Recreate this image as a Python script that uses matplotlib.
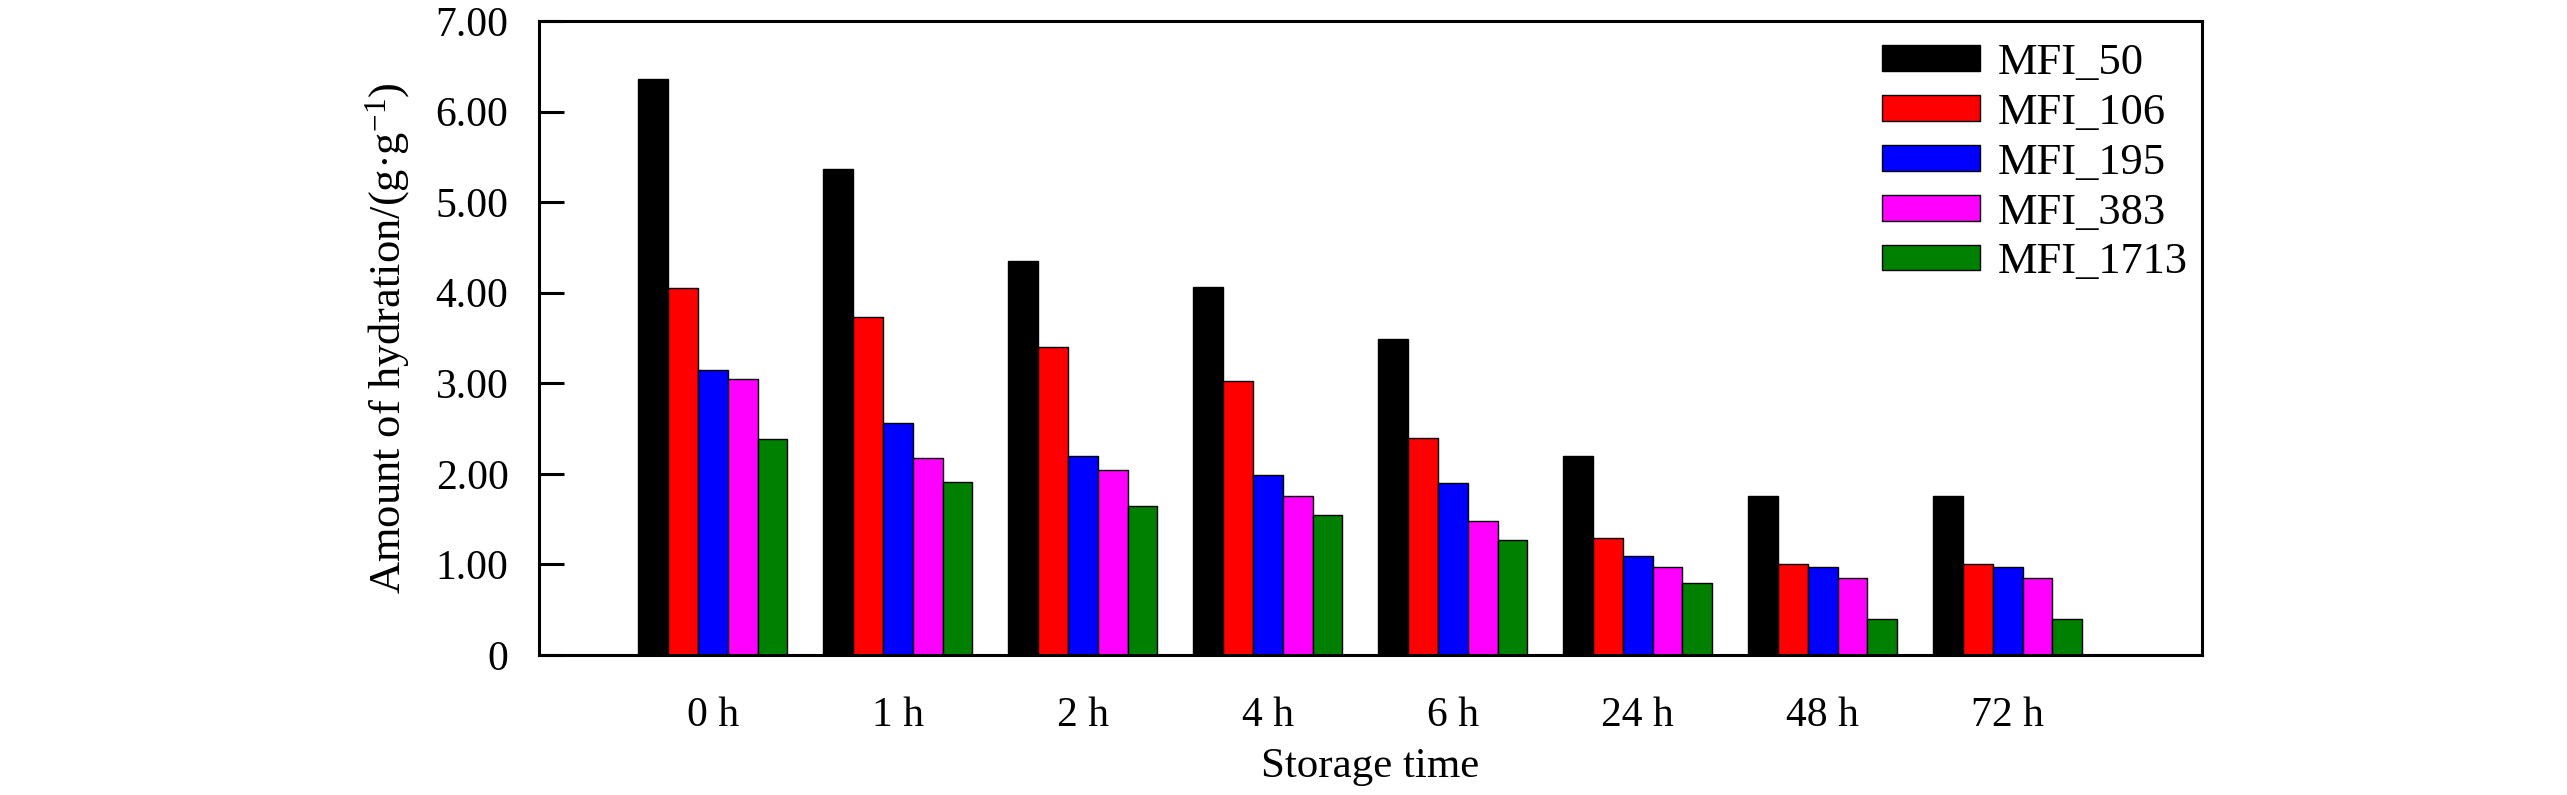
import matplotlib
matplotlib.use("Agg")
import matplotlib.pyplot as plt
from matplotlib.ticker import FixedLocator, FuncFormatter
import numpy as np

plt.rcParams['font.family'] = ['Liberation Serif', 'DejaVu Serif']
plt.rcParams['mathtext.fontset'] = 'custom'
plt.rcParams['mathtext.rm'] = 'Liberation Serif'
plt.rcParams['mathtext.default'] = 'regular'

# data
times = ["0 h", "1 h", "2 h", "4 h", "6 h", "24 h", "48 h", "72 h"]
series = ["MFI_50", "MFI_106", "MFI_195", "MFI_383", "MFI_1713"]
mfi_50 = [6.36, 5.37, 4.35, 4.06, 3.49, 2.20, 1.75, 1.75]
mfi_106 = [4.05, 3.73, 3.40, 3.02, 2.40, 1.29, 1.00, 1.00]
mfi_195 = [3.15, 2.56, 2.20, 1.99, 1.90, 1.09, 0.97, 0.97]
mfi_383 = [3.05, 2.17, 2.04, 1.76, 1.48, 0.97, 0.85, 0.85]
mfi_1713 = [2.38, 1.91, 1.65, 1.55, 1.27, 0.80, 0.40, 0.40]
colors = ["#000000", "#ff0000", "#0000ff", "#ff00ff", "#008000"]

fig = plt.figure(figsize=(25.67, 7.95), dpi=100)
ax = fig.add_axes([0.21, 0.1761, 0.6478, 0.7975])

x = np.arange(len(times))
w = 0.161
values = [mfi_50, mfi_106, mfi_195, mfi_383, mfi_1713]
for i, (vals, name, c) in enumerate(zip(values, series, colors)):
    ax.bar(x + (i - 2) * w, vals, width=w, color=c, edgecolor="black",
           linewidth=1.0, label=name)

ax.set_xlim(-0.94, 8.05)
ax.set_ylim(0, 7)
ax.set_xticks(x)
ax.set_xticklabels(times)
ax.yaxis.set_major_locator(FixedLocator(np.arange(0, 8)))
ax.yaxis.set_major_formatter(FuncFormatter(lambda v, p: "0" if v == 0 else "%.2f" % v))

ax.tick_params(axis="x", length=0, pad=30, labelsize=30)
ax.tick_params(axis="y", direction="in", length=18, width=2.2, pad=22, labelsize=30)
for s in ax.spines.values():
    s.set_linewidth(2.2)

ax.set_xlabel("Storage time", fontsize=31, labelpad=9)
ax.set_ylabel("Amount of hydration/(g·g$^{-1}$)", fontsize=32, labelpad=17)

ax.legend(loc="upper left", bbox_to_anchor=(0.8076, 0.965), frameon=False,
          fontsize=32, handlelength=2.2, handleheight=0.52, handletextpad=0.4,
          labelspacing=0.22, borderpad=0, borderaxespad=0)

fig.savefig("out.png", dpi=100)
